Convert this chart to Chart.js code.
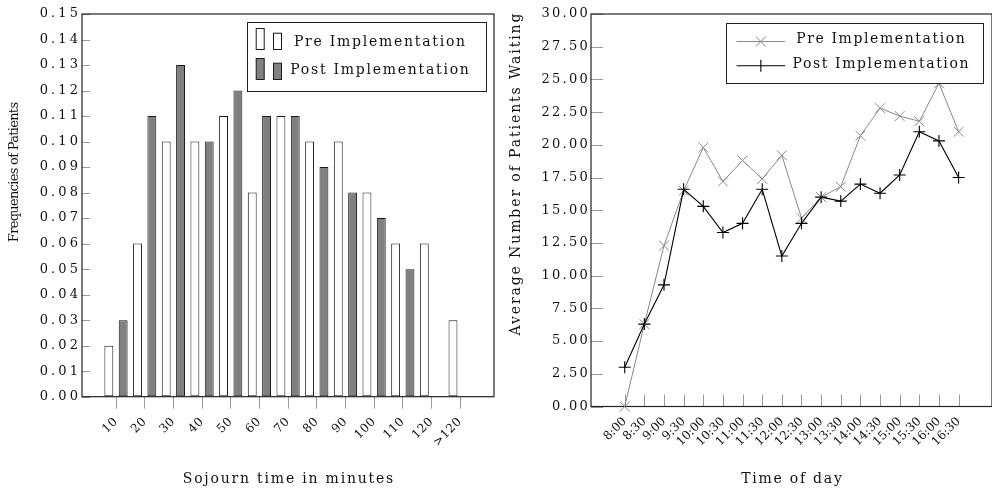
<!DOCTYPE html>
<html>
<head>
<meta charset="utf-8">
<script src="https://cdn.jsdelivr.net/npm/chart.js@4.4.1/dist/chart.umd.min.js"></script>
<style>
  html, body { margin: 0; padding: 0; background: #fff; overflow: hidden; }
  #wrap { position: relative; width: 992px; height: 490px; overflow: hidden; }
  #left { position: absolute; left: 0; top: 0; width: 500px; height: 490px; }
  #right { position: absolute; left: 500px; top: 0; width: 500px; height: 490px; }
</style>
</head>
<body>
<div id="wrap">
  <canvas id="left" width="500" height="490"></canvas>
  <canvas id="right" width="500" height="490"></canvas>
</div>
<script>
(function(){
    "use strict";

    var font = "'DejaVu Serif', serif";

    // left chart: sojourn time histogram
    var sojournLabels = ['10', '20', '30', '40', '50', '60', '70', '80', '90', '100', '110', '120', '>120'];
    var sojournPre  = [0.02, 0.06, 0.10, 0.10, 0.11, 0.08, 0.11, 0.10, 0.10, 0.08, 0.06, 0.06, 0.03];
    var sojournPost = [0.03, 0.11, 0.13, 0.10, 0.12, 0.11, 0.11, 0.09, 0.08, 0.07, 0.05, null, null];
    var freqTicks = [0, 0.01, 0.02, 0.03, 0.04, 0.05, 0.06, 0.07, 0.08, 0.09, 0.10, 0.11, 0.12, 0.13, 0.14, 0.15];

    // right chart: patients waiting by time of day
    var timeLabels = ['8:00', '8:30', '9:00', '9:30', '10:00', '10:30', '11:00', '11:30', '12:00',
                      '12:30', '13:00', '13:30', '14:00', '14:30', '15:00', '15:30', '16:00', '16:30'];
    var waitingPre  = [0, 6.3, 12.3, 16.5, 19.8, 17.2, 18.8, 17.4, 19.2, 14.4, 16.0, 16.8, 20.7, 22.8, 22.2, 21.8, 24.7, 21.0];
    var waitingPost = [3.0, 6.3, 9.3, 16.6, 15.3, 13.3, 14.0, 16.6, 11.5, 14.0, 16.0, 15.7, 17.0, 16.3, 17.7, 21.0, 20.3, 17.5];
    var waitingTicks = [0, 2.5, 5, 7.5, 10, 12.5, 15, 17.5, 20, 22.5, 25, 27.5, 30];

    var legendPre = 'Pre Implementation';
    var legendPost = 'Post Implementation';

    function points(values){
        return values.map(function(v, i){ return {x: i, y: v}; });
    }

    // frame, inner ticks, axis titles and boxed legend in the pgfplots look
    var paperFrame = {
        id: 'paperFrame',
        beforeDraw: function(chart, args, o){
            chart.ctx.letterSpacing = '0px';
            ['x', 'y'].forEach(function(id){
                var s = chart.scales[id];
                if (s.$spaced) return;
                var draw = s.drawLabels;
                var sp = o.tickSpacing[id];
                s.drawLabels = function(area){
                    var c = this.ctx;
                    c.save();
                    c.letterSpacing = sp + 'px';
                    draw.call(this, area);
                    c.restore();
                };
                s.$spaced = true;
            });
        },
        beforeDatasetsDraw: function(chart, args, o){
            var ctx = chart.ctx, a = chart.chartArea;
            var sx = chart.scales.x, sy = chart.scales.y;
            ctx.save();
            ctx.strokeStyle = '#9a9a9a';
            ctx.lineWidth = 1;
            ctx.beginPath();
            if (o.innerX) {
                sx.ticks.forEach(function(t, i){
                    var px = Math.round(sx.getPixelForTick(i)) + 0.5;
                    ctx.moveTo(px, a.bottom);
                    ctx.lineTo(px, a.bottom - o.innerX);
                });
            }
            if (o.innerY) {
                sy.ticks.forEach(function(t, i){
                    var py = Math.round(sy.getPixelForTick(i)) + 0.5;
                    ctx.moveTo(a.left, py);
                    ctx.lineTo(a.left + o.innerY, py);
                });
            }
            ctx.stroke();
            ctx.strokeStyle = '#222';
            ctx.lineWidth = 1.2;
            ctx.strokeRect(a.left, a.top, a.right - a.left, a.bottom - a.top);
            ctx.restore();
        },
        afterDraw: function(chart, args, o){
            var ctx = chart.ctx, a = chart.chartArea;
            ctx.save();
            ctx.fillStyle = '#111';
            ctx.textAlign = 'center';
            ctx.textBaseline = 'middle';

            // x title
            ctx.font = o.xTitle.size + 'px ' + font;
            ctx.letterSpacing = o.xTitle.spacing + 'px';
            ctx.fillText(o.xTitle.text, (a.left + a.right) / 2 + o.xTitle.spacing / 2, o.xTitle.y);

            // y title
            ctx.save();
            ctx.translate(o.yTitle.x, a.top + (a.bottom - a.top) * o.yTitle.at);
            ctx.rotate(-Math.PI / 2);
            ctx.font = o.yTitle.size + 'px ' + font;
            ctx.letterSpacing = o.yTitle.spacing + 'px';
            ctx.fillText(o.yTitle.text, o.yTitle.spacing / 2, 0);
            ctx.restore();

            // legend box
            var lg = o.legend;
            var bx = Math.round(a.right - lg.right - lg.width) + 0.5;
            var by = Math.round(a.top + lg.top) + 0.5;
            ctx.fillStyle = '#fff';
            ctx.fillRect(bx, by, lg.width, lg.height);
            ctx.strokeStyle = '#222';
            ctx.lineWidth = 1;
            ctx.strokeRect(bx, by, lg.width, lg.height);

            chart.data.datasets.forEach(function(ds, i){
                var ty = by + lg.textRows[i];
                var iy = by + lg.iconRows[i];
                ctx.lineWidth = 1;
                if (lg.kind === 'bar') {
                    ctx.fillStyle = ds.backgroundColor;
                    ctx.strokeStyle = ds.borderColor;
                    lg.bars.forEach(function(b){
                        ctx.fillRect(bx + b[0], iy - b[1], 8, b[1]);
                        ctx.strokeRect(bx + b[0], iy - b[1], 8, b[1]);
                    });
                } else {
                    ctx.strokeStyle = ds.borderColor;
                    ctx.lineWidth = ds.borderWidth;
                    ctx.beginPath();
                    ctx.moveTo(bx + lg.line[0], iy);
                    ctx.lineTo(bx + lg.line[1], iy);
                    var cx = bx + (lg.line[0] + lg.line[1]) / 2;
                    var r = ds.pointRadius;
                    if (ds.pointStyle === 'cross') {
                        ctx.moveTo(cx - r, iy); ctx.lineTo(cx + r, iy);
                        ctx.moveTo(cx, iy - r); ctx.lineTo(cx, iy + r);
                    } else {
                        var d = r * Math.SQRT1_2;
                        ctx.moveTo(cx - d, iy - d); ctx.lineTo(cx + d, iy + d);
                        ctx.moveTo(cx - d, iy + d); ctx.lineTo(cx + d, iy - d);
                    }
                    ctx.stroke();
                }
                ctx.fillStyle = '#111';
                ctx.font = lg.size + 'px ' + font;
                ctx.letterSpacing = lg.spacing + 'px';
                ctx.fillText(ds.label, bx + lg.textCenter + lg.spacing / 2, ty);
            });
            ctx.restore();
        }
    };

    new Chart(document.getElementById('left'), {
        type: 'bar',
        data: {
            datasets: [{
                label: legendPre,
                data: points(sojournPre),
                backgroundColor: '#ffffff',
                borderColor: '#1a1a1a',
                borderWidth: 1,
                borderSkipped: false,
                categoryPercentage: 1.0,
                barPercentage: 0.62
            }, {
                label: legendPost,
                data: points(sojournPost),
                backgroundColor: '#808080',
                borderColor: '#1a1a1a',
                borderWidth: 1,
                borderSkipped: false,
                categoryPercentage: 1.0,
                barPercentage: 0.62
            }]
        },
        options: {
            responsive: false,
            animation: false,
            layout: { padding: { top: 14, right: 6, left: 0, bottom: 0 } },
            plugins: {
                legend: { display: false },
                tooltip: { enabled: false },
                paperFrame: {
                    tickSpacing: { x: 0.5, y: 3.1 },
                    innerX: 0,
                    innerY: 8,
                    xTitle: { text: 'Sojourn time in minutes', y: 479, size: 14, spacing: 1.8 },
                    yTitle: { text: 'Frequencies of Patients', x: 15, at: 0.413, size: 13, spacing: -0.7 },
                    legend: {
                        kind: 'bar', width: 239, height: 69, right: 8, top: 8,
                        size: 14, spacing: 1.75, textCenter: 132,
                        textRows: [20, 48.3], iconRows: [27, 57],
                        bars: [[8.7, 21], [26, 16.3]]
                    }
                }
            },
            scales: {
                x: {
                    type: 'linear',
                    min: -1.186,
                    max: 13.18,
                    offset: false,
                    bounds: 'data',
                    afterBuildTicks: function(s){
                        s.ticks = sojournLabels.map(function(l, i){ return {value: i}; });
                    },
                    afterFit: function(s){ s.height = 93.3; },
                    ticks: {
                        autoSkip: false,
                        minRotation: 45,
                        maxRotation: 45,
                        padding: 6,
                        color: '#111',
                        font: { family: font, size: 12 },
                        callback: function(v){ return sojournLabels[v]; }
                    },
                    grid: { offset: false, drawOnChartArea: false, tickLength: 12, color: '#9a9a9a', lineWidth: 1 },
                    border: { display: false }
                },
                y: {
                    min: 0,
                    max: 0.15,
                    afterBuildTicks: function(s){
                        s.ticks = freqTicks.map(function(v){ return {value: v}; });
                    },
                    afterFit: function(s){ s.width = 82; },
                    ticks: {
                        padding: 1,
                        color: '#111',
                        font: { family: font, size: 13 },
                        callback: function(v){ return v.toFixed(2); }
                    },
                    grid: { drawOnChartArea: false, drawTicks: false },
                    border: { display: false }
                }
            }
        },
        plugins: [paperFrame]
    });

    new Chart(document.getElementById('right'), {
        type: 'line',
        data: {
            datasets: [{
                label: legendPre,
                data: points(waitingPre),
                borderColor: '#888888',
                borderWidth: 1,
                pointStyle: 'crossRot',
                pointRadius: 7,
                pointBorderColor: '#888888',
                pointBorderWidth: 1,
                tension: 0,
                fill: false,
                clip: false,
                order: 1
            }, {
                label: legendPost,
                data: points(waitingPost),
                borderColor: '#000000',
                borderWidth: 1.1,
                pointStyle: 'cross',
                pointRadius: 6,
                pointBorderColor: '#000000',
                pointBorderWidth: 1.1,
                tension: 0,
                fill: false,
                clip: false,
                order: 0
            }]
        },
        options: {
            responsive: false,
            animation: false,
            layout: { padding: { top: 14, right: 5, left: 0, bottom: 0 } },
            plugins: {
                legend: { display: false },
                tooltip: { enabled: false },
                paperFrame: {
                    tickSpacing: { x: 0, y: 2.25 },
                    innerX: 12,
                    innerY: 12,
                    xTitle: { text: 'Time of day', y: 479, size: 14, spacing: 1.75 },
                    yTitle: { text: 'Average Number of Patients Waiting', x: 16, at: 0.409, size: 14, spacing: 1.9 },
                    legend: {
                        kind: 'line', width: 257, height: 60, right: 9, top: 8.7,
                        size: 14, spacing: 1.6, textCenter: 154,
                        textRows: [15.6, 40.6], iconRows: [18, 42.3],
                        line: [10, 58.7]
                    }
                }
            },
            scales: {
                x: {
                    type: 'linear',
                    min: -1.717,
                    max: 18.70,
                    offset: false,
                    bounds: 'data',
                    afterBuildTicks: function(s){
                        s.ticks = timeLabels.map(function(l, i){ return {value: i}; });
                    },
                    afterFit: function(s){ s.height = 83.5; },
                    ticks: {
                        autoSkip: false,
                        minRotation: 45,
                        maxRotation: 45,
                        padding: 8,
                        color: '#111',
                        font: { family: font, size: 12 },
                        callback: function(v){ return timeLabels[v]; }
                    },
                    grid: { offset: false, drawOnChartArea: false, drawTicks: false },
                    border: { display: false }
                },
                y: {
                    min: 0,
                    max: 30,
                    afterBuildTicks: function(s){
                        s.ticks = waitingTicks.map(function(v){ return {value: v}; });
                    },
                    afterFit: function(s){ s.width = 91; },
                    ticks: {
                        padding: 1,
                        color: '#111',
                        font: { family: font, size: 13 },
                        callback: function(v){ return v.toFixed(2); }
                    },
                    grid: { drawOnChartArea: false, drawTicks: false },
                    border: { display: false }
                }
            }
        },
        plugins: [paperFrame]
    });
})();
</script>
</body>
</html>
